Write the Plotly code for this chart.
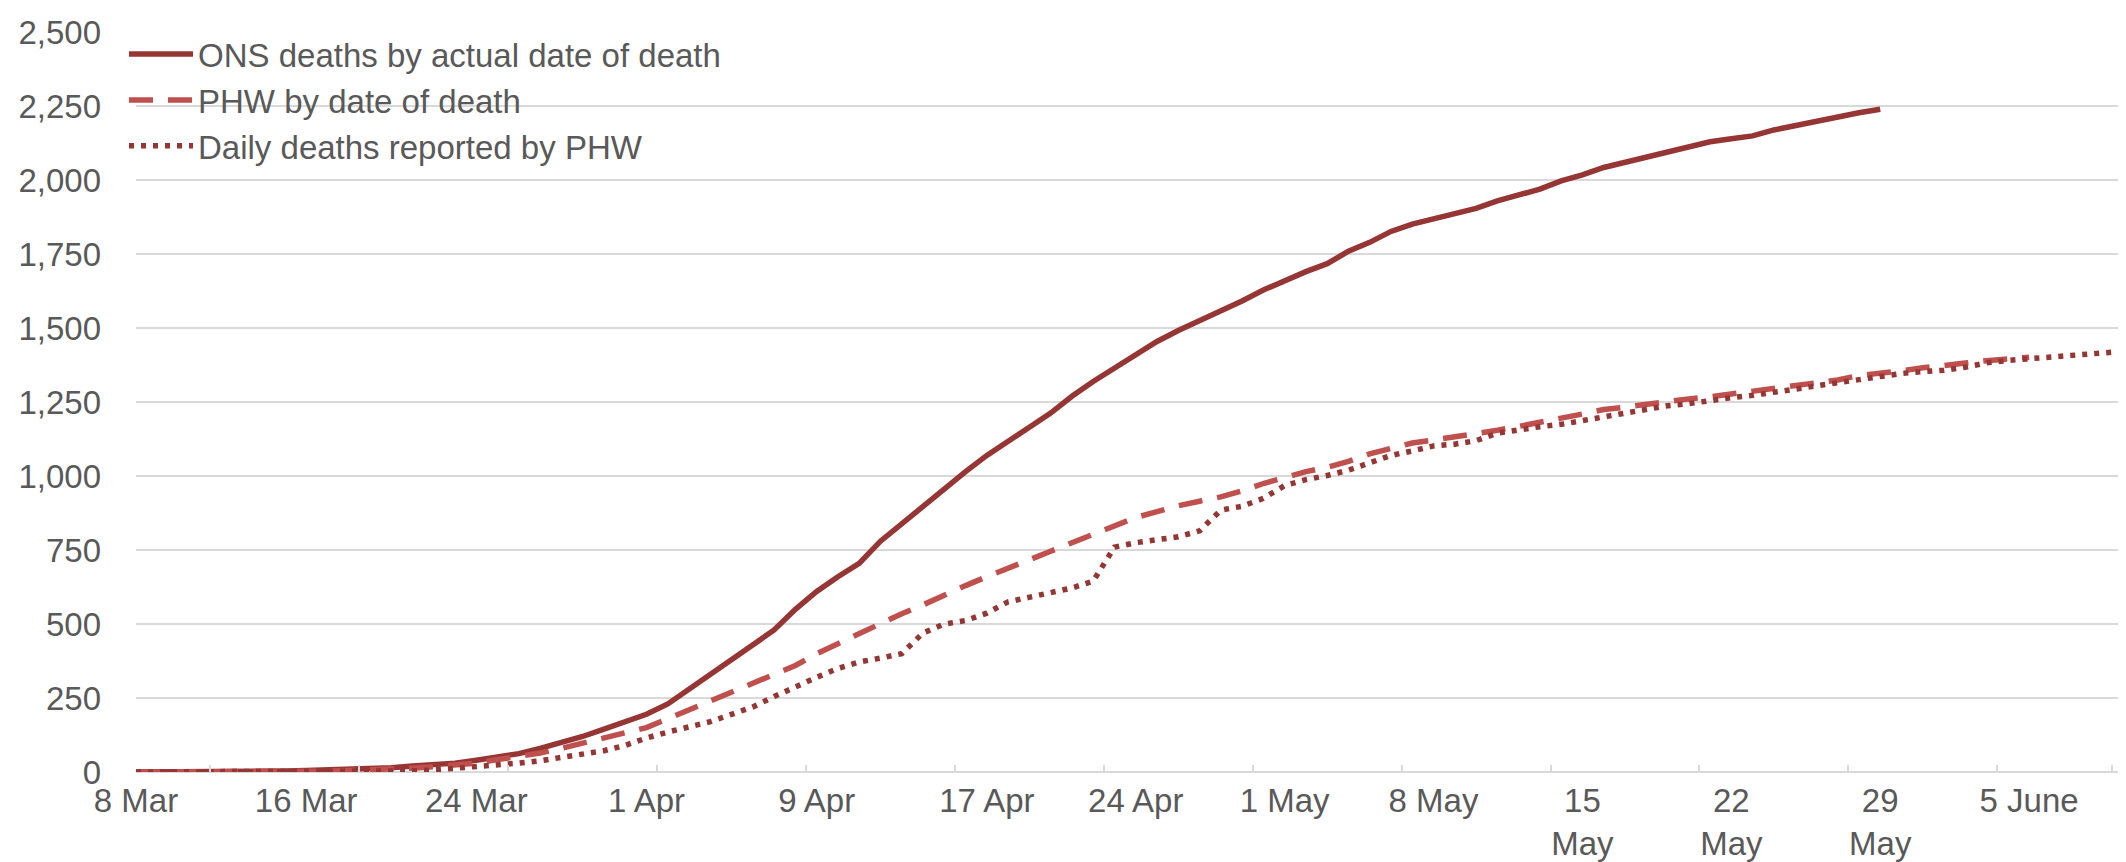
import pandas as pd
import plotly.graph_objects as go

start = "2020-03-08"

ons_deaths = [0, 0, 0, 1, 1, 1, 2, 3, 5, 7, 10, 13, 14, 20, 25, 30, 40, 52, 62, 80,
              98, 120, 145, 170, 195, 230, 280, 330, 385, 430, 480, 550, 610, 660, 705, 780,
              840, 895, 960, 1015, 1070, 1120, 1165, 1213, 1270, 1320, 1365, 1410, 1455, 1492,
              1525, 1556, 1592, 1629, 1662, 1691, 1718, 1760, 1790, 1827, 1852, 1870, 1889, 1905,
              1930, 1950, 1970, 1998, 2018, 2043, 2060, 2078, 2095, 2112, 2130, 2140, 2150, 2170,
              2185, 2200, 2215, 2228, 2240]

phw_by_date = [0, 0, 0, 0, 0, 0, 1, 1, 2, 3, 5, 7, 10, 13, 18, 22, 30, 42, 52, 64,
               80, 98, 115, 135, 150, 180, 210, 240, 265, 300, 330, 360, 400, 435, 465, 500,
               535, 565, 600, 630, 660, 690, 717, 746, 775, 802, 830, 860, 880, 900, 915,
               930, 950, 975, 995, 1015, 1030, 1050, 1075, 1095, 1112, 1122, 1132, 1142, 1155,
               1168, 1180, 1196, 1210, 1225, 1233, 1243, 1253, 1261, 1268, 1278, 1286, 1298,
               1308, 1316, 1325, 1340, 1346, 1356, 1366, 1376, 1382, 1390, 1396, 1402]

phw_reported = [0, 0, 0, 0, 0, 0, 0, 0, 0, 0, 0, 1, 2, 4, 7, 12, 19, 24, 30, 38,
                48, 60, 72, 90, 115, 135, 152, 170, 195, 220, 255, 290, 320, 350, 372, 385,
                400, 470, 500, 512, 537, 575, 590, 608, 622, 645, 760, 775, 785, 795, 815,
                885, 898, 925, 968, 988, 1002, 1020, 1045, 1070, 1085, 1102, 1108, 1120, 1145,
                1158, 1167, 1175, 1188, 1200, 1215, 1228, 1238, 1245, 1256, 1265, 1273, 1282,
                1294, 1305, 1316, 1326, 1336, 1347, 1353, 1358, 1368, 1383, 1391, 1396, 1402,
                1408, 1415, 1420, 1425]

tick_dates = ["2020-03-08", "2020-03-16", "2020-03-24", "2020-04-01", "2020-04-09",
              "2020-04-17", "2020-04-24", "2020-05-01", "2020-05-08", "2020-05-15",
              "2020-05-22", "2020-05-29", "2020-06-05"]
tick_labels = ["8 Mar", "16 Mar", "24 Mar", "1 Apr", "9 Apr", "17 Apr", "24 Apr",
               "1 May", "8 May", "15<br>May", "22<br>May", "29<br>May", "5 June"]

minor_ticks = [str(d) for d in pd.date_range("2020-03-11 12:00", periods=13, freq="7D")] + ["2020-06-08 21:40"]

names = ["ONS deaths by actual date of death", "PHW by date of death", "Daily deaths reported by PHW"]

x_ons = pd.date_range(start, periods=len(ons_deaths), freq="D")
x_phw = pd.date_range(start, periods=len(phw_by_date), freq="D")
x_rep = pd.date_range(start, periods=len(phw_reported), freq="D")

fig = go.Figure()
fig.add_trace(go.Scatter(x=x_ons, y=ons_deaths, mode="lines", name=names[0],
                         line=dict(color="#963634", width=5.5)))
fig.add_trace(go.Scatter(x=x_phw, y=phw_by_date, mode="lines", name=names[1],
                         line=dict(color="#c0504d", width=5.5, dash="24px,15px")))
fig.add_trace(go.Scatter(x=x_rep, y=phw_reported, mode="lines", name=names[2],
                         line=dict(color="#943634", width=5.5, dash="5px,7px")))

font_family = "Liberation Sans, Arial, sans-serif"
grey = "#595959"
fs = 33

fig.update_layout(
    width=2126, height=862,
    margin=dict(l=128, r=0, t=24, b=98),
    paper_bgcolor="white", plot_bgcolor="white",
    font=dict(family=font_family, size=fs, color=grey),
    showlegend=True,
    legend=dict(x=-0.006, y=1.008, xanchor="left", yanchor="top", bgcolor="rgba(0,0,0,0)",
                font=dict(size=fs, color=grey), itemwidth=64, tracegroupgap=0),
    xaxis=dict(
        type="date",
        range=["2020-03-08", "2020-06-09 22:20"],
        tickmode="array", tickvals=tick_dates, ticktext=tick_labels,
        ticks="", showgrid=False, showline=False, zeroline=False,
        tickfont=dict(size=fs, color=grey), ticklabelstandoff=6,
        minor=dict(tickmode="array", tickvals=minor_ticks, ticks="inside",
                   ticklen=7, tickwidth=1.5, tickcolor="#d9d9d9", showgrid=False),
    ),
    yaxis=dict(
        range=[0, 2501], tickmode="linear", tick0=0, dtick=250, tickformat=",d",
        showgrid=True, gridcolor="#d9d9d9", gridwidth=1.5,
        zeroline=True, zerolinecolor="#d9d9d9", zerolinewidth=1.5,
        showline=False, ticks="", tickfont=dict(size=fs, color=grey),
        ticklabelstandoff=34,
    ),
)

fig.write_html("out.html")
